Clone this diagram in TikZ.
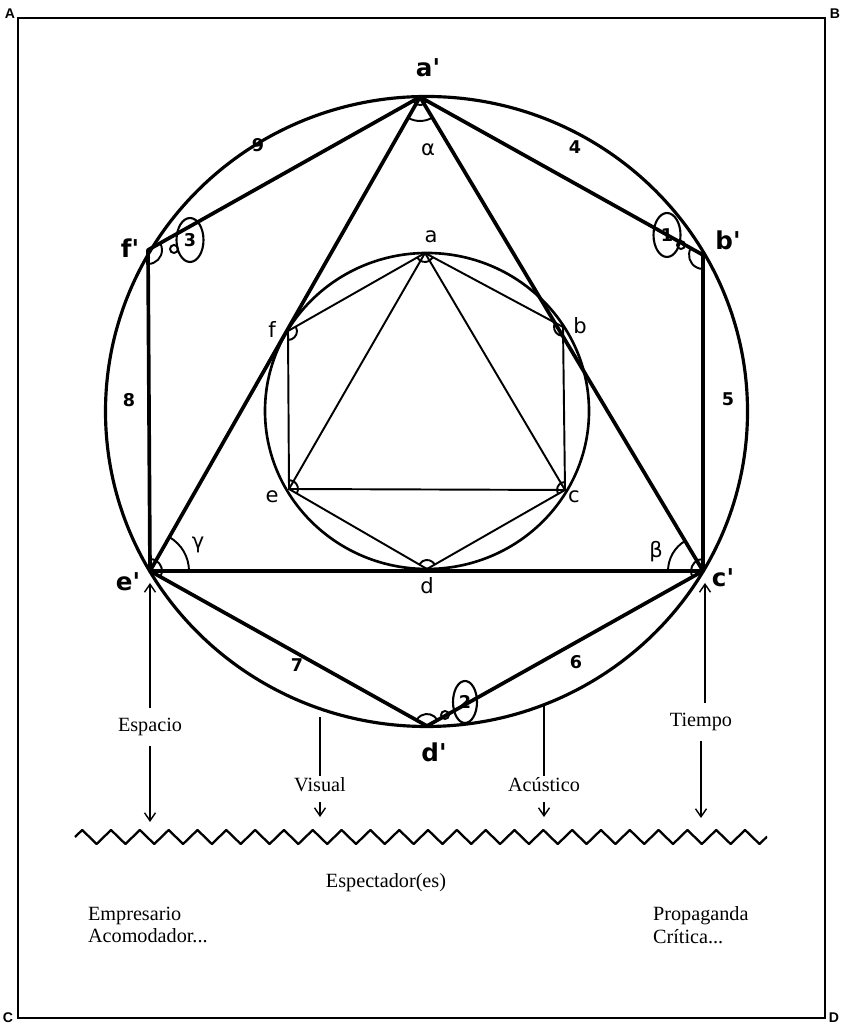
\documentclass[tikz,border=0pt]{standalone}
\usepackage{fontspec}
\setmainfont{Liberation Serif}
\newfontfamily\handfont{DejaVu Sans}
\newfontfamily\cornerfont{Liberation Sans}
\usepackage{tikz}
\usetikzlibrary{shapes.geometric, arrows.meta, angles, decorations.pathmorphing}

\begin{document}
\begin{tikzpicture}[
    x=0.02cm, y=0.02cm,
    frame/.style={line width=1.6pt},
    outer/.style={line width=2.1pt, line join=round},
    inner/.style={line width=1.1pt, line join=round},
    arcmark/.style={draw, line width=1.1pt},
    ringmark/.style={draw, ellipse, line width=1.2pt, minimum width=0.54cm, minimum height=0.88cm, inner sep=0pt, font=\handfont\bfseries\fontsize{10}{10}\selectfont},
    plbl/.style={font=\handfont\bfseries\fontsize{14}{14}\selectfont, inner sep=1pt},
    ilbl/.style={font=\handfont\fontsize{12}{12}\selectfont, inner sep=1pt},
    num/.style={font=\handfont\bfseries\fontsize{10}{10}\selectfont, inner sep=1pt},
    word/.style={font=\fontsize{11.5}{13}\selectfont, inner sep=1pt},
    corner/.style={font=\cornerfont\bfseries\fontsize{8}{8}\selectfont, inner sep=0pt},
    arr/.style={-{Straight Barb[length=1.6mm, width=2.2mm]}, line width=0.8pt},
    stem/.style={line width=0.8pt}
]
\useasboundingbox (0,0) rectangle (842,1026);

\draw[frame] (18,8) rectangle (825,1008);
\node[corner] (ca) at (10,1012) {A};
\node[corner] (cb) at (835,1012) {B};
\node[corner] (cc) at (8,8) {C};
\node[corner] (cd) at (834,8) {D};

\coordinate (ap) at (420,929);
\coordinate (bp) at (703,771);
\coordinate (cp) at (703,455);
\coordinate (dp) at (427,300);
\coordinate (ep) at (150,455);
\coordinate (fp) at (148,776);

\coordinate (a) at (425,773);
\coordinate (b) at (563,699);
\coordinate (c) at (565,536);
\coordinate (d) at (427,457);
\coordinate (e) at (289,537);
\coordinate (f) at (288,695);

\draw[line width=1.8pt] (426.5,614.5) ellipse [x radius=321, y radius=315];
\draw[line width=1.5pt] (427,615) ellipse [x radius=162, y radius=158];

\draw[outer] (ap) -- (bp) -- (cp) -- (dp) -- (ep) -- (fp) -- cycle;
\draw[outer] (ap) -- (ep) -- (cp) -- cycle;
\draw[inner] (a) -- (b) -- (c) -- (d) -- (e) -- (f) -- cycle;
\draw[inner] (a) -- (e) -- (c) -- cycle;

\pic[arcmark, angle radius=0.16cm] {angle=fp--ap--bp};
\pic[arcmark, angle radius=0.28cm] {angle=ap--bp--cp};
\pic[arcmark, angle radius=0.24cm] {angle=bp--cp--dp};
\pic[arcmark, angle radius=0.24cm] {angle=cp--dp--ep};
\pic[arcmark, angle radius=0.24cm] {angle=dp--ep--fp};
\pic[arcmark, angle radius=0.28cm] {angle=ep--fp--ap};
\pic[arcmark, angle radius=0.48cm] {angle=ep--ap--cp};
\pic[arcmark, angle radius=0.78cm] {angle=cp--ep--ap};
\pic[arcmark, angle radius=0.70cm] {angle=ap--cp--ep};

\pic[arcmark, angle radius=0.18cm] {angle=f--a--b};
\pic[arcmark, angle radius=0.18cm] {angle=a--b--c};
\pic[arcmark, angle radius=0.16cm] {angle=b--c--d};
\pic[arcmark, angle radius=0.18cm] {angle=c--d--e};
\pic[arcmark, angle radius=0.18cm] {angle=d--e--f};
\pic[arcmark, angle radius=0.18cm] {angle=e--f--a};

\node[ringmark] (r1) at (667,791) {1};
\node[ringmark] (r3) at (190,786) {3};
\node[ringmark, minimum width=0.48cm, minimum height=0.84cm] (r2) at (465,324) {2};
\draw[line width=1.1pt] (681,781) circle [radius=4];
\draw[line width=1.1pt] (174,777) circle [radius=4];
\draw[line width=1.1pt] (445,311) circle [radius=4];

\node[plbl] (lap) at (428,958) {a\textquotesingle};
\node[plbl] (lbp) at (728,786) {b\textquotesingle};
\node[plbl] (lcp) at (723,448) {c\textquotesingle};
\node[plbl] (ldp) at (434,274) {d\textquotesingle};
\node[plbl] (lep) at (128,444) {e\textquotesingle};
\node[plbl] (lfp) at (130,778) {f\textquotesingle};

\node[ilbl] (la) at (431,789) {a};
\node[ilbl] (lb) at (580,700) {b};
\node[ilbl] (lc) at (574,529) {c};
\node[ilbl] (ld) at (427,440) {d};
\node[ilbl] (le) at (272,529) {e};
\node[ilbl] (lf) at (272,696) {f};

\node[ilbl] (lalpha) at (428,876) {α};
\node[ilbl] (lgamma) at (198,481) {γ};
\node[ilbl] (lbeta) at (656,474) {β};

\node[num] (n9) at (258,881) {9};
\node[num] (n4) at (575,879) {4};
\node[num] (n8) at (129,626) {8};
\node[num] (n5) at (728,627) {5};
\node[num] (n7) at (297,361) {7};
\node[num] (n6) at (576,364) {6};

\node[word] (espacio) at (150,299) {Espacio};
\node[word] (visual) at (320,241) {Visual};
\node[word] (acustico) at (544,241) {Acústico};
\node[word] (tiempo) at (701,304) {Tiempo};
\node[word] (espectador) at (386,143) {Espectador(es)};
\node[word, anchor=west, align=left] (empresario) at (86,101) {Empresario\\Acomodador...};
\node[word, anchor=west, align=left] (propaganda) at (651,101) {Propaganda\\Crítica...};

\coordinate (zl) at (75,189);
\coordinate (zr) at (767,189);
\draw[line width=1.3pt, line join=round, decorate, decoration={zigzag, segment length=0.5765cm, amplitude=0.14cm}] (zl) -- (zr);

\draw[arr] (espacio.north) ++(0,8) -- (150,443);
\draw[arr] (espacio.south) ++(0,-8) -- (150,204);
\draw[stem] (320,309) -- (visual.north);
\draw[arr] (visual.south) ++(0,-8) -- (320,209);
\draw[stem] (544,320) -- (acustico.north);
\draw[arr] (acustico.south) ++(0,-8) -- (544,209);
\draw[arr] (tiempo.north) ++(4,8) -- (705,443);
\draw[arr] (tiempo.south) ++(0,-8) -- (701,208);

\end{tikzpicture}
\end{document}
